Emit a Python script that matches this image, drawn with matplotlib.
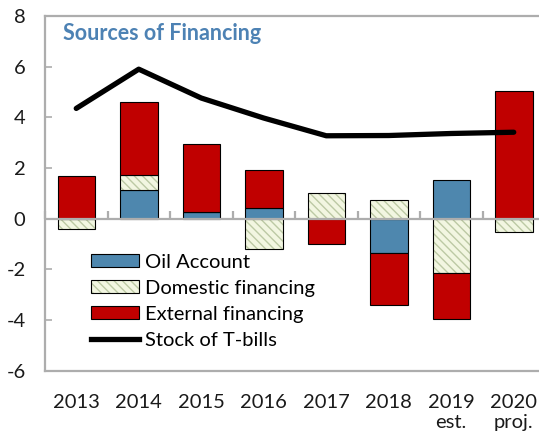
import numpy as np
import matplotlib
matplotlib.use("Agg")
import matplotlib.pyplot as plt
from matplotlib.patches import Patch
from matplotlib.lines import Line2D

plt.rcParams["font.family"] = ["Lato", "DejaVu Sans"]
plt.rcParams["hatch.linewidth"] = 1.0
plt.rcParams["axes.unicode_minus"] = False

# ---------------------------------------------------------------------------
# data (percent of GDP)
# ---------------------------------------------------------------------------
years = ["2013", "2014", "2015", "2016", "2017", "2018", "2019\nest.", "2020\nproj."]
oil_account = [0.0, 1.12, 0.25, 0.40, 0.0, -1.34, 1.51, 0.0]
domestic = [-0.40, 0.62, 0.0, -1.20, 1.01, 0.72, -2.14, -0.54]
external = [1.68, 2.87, 2.68, 1.52, -0.99, -2.08, -1.81, 5.05]
tbills = [4.35, 5.90, 4.76, 3.97, 3.27, 3.28, 3.36, 3.41]

OIL_C = "#4E87AE"
DOM_C = "#F2F6E1"
HATCH_C = "#BCC9A4"
EXT_C = "#C00000"
GRID_C = "#ADADAD"
TITLE_C = "#4D82B4"
FS = 14.5

fig = plt.figure(figsize=(5.39, 4.41), dpi=100)
ax = fig.add_axes([45 / 539, 1 - 370.5 / 441, 500 / 539, 354.5 / 441])

x = np.arange(len(years))
w = 0.6
pos_base = np.zeros(len(years))
neg_base = np.zeros(len(years))
series = [(oil_account, OIL_C, None), (domestic, DOM_C, "\\\\\\\\"), (external, EXT_C, None)]
for vals, col, hatch in series:
    v = np.array(vals)
    base = np.where(v >= 0, pos_base, neg_base)
    bars = ax.bar(x, v, w, bottom=base, color=col, edgecolor="black",
                  linewidth=0.8, hatch=hatch, zorder=3)
    if hatch:
        for b in bars:
            b._hatch_color = matplotlib.colors.to_rgba(HATCH_C)
    pos_base += np.where(v > 0, v, 0)
    neg_base += np.where(v < 0, v, 0)

# zero line sits on top of the bars
ax.axhline(0, color=GRID_C, linewidth=1.6, zorder=5)
ax.plot(x, tbills, color="black", linewidth=3.8, solid_capstyle="round", zorder=6)

ax.set_xlim(-0.5, len(years) - 0.5)
ax.set_ylim(-6, 8)
ax.set_yticks(range(-6, 9, 2))
ax.set_xticks(x)
ax.set_xticklabels(years, fontsize=FS, color="#1a1a1a")
ax.tick_params(axis="x", length=0, pad=17)
ax.tick_params(axis="y", direction="in", length=5, width=1.2, color=GRID_C,
               labelsize=FS, labelcolor="#1a1a1a", pad=14)
for s in ax.spines.values():
    s.set_color(GRID_C)
    s.set_linewidth(1.6)

# category separator ticks on the zero line
zero = ax.secondary_xaxis(6 / 14)
zero.set_xticks(np.arange(len(years) + 1) - 0.5)
zero.tick_params(direction="in", length=6, width=1.6, color=GRID_C, labelbottom=False, labeltop=False)
for side in ("bottom", "top"):
    zero.spines[side].set_visible(False)

ax.text(0.036, 0.952, "Sources of Financing", transform=ax.transAxes,
        fontsize=15.5, fontweight="bold", color=TITLE_C, va="center", ha="left")

handles = [
    Patch(facecolor=OIL_C, edgecolor="black", linewidth=0.8, label="Oil Account"),
    Patch(facecolor=DOM_C, edgecolor="black", linewidth=0.8, hatch="\\\\\\\\", label="Domestic financing"),
    Patch(facecolor=EXT_C, edgecolor="black", linewidth=0.8, label="External financing"),
    Line2D([], [], color="black", linewidth=3.8, label="Stock of T-bills"),
]
leg = ax.legend(handles=handles, loc="upper left", bbox_to_anchor=(0.092, 0.33),
                frameon=False, fontsize=FS, handlelength=2.4, handleheight=0.6,
                handletextpad=0.3, labelspacing=0.45, borderaxespad=0, borderpad=0)
for p in leg.get_patches():
    if p.get_hatch():
        p._hatch_color = matplotlib.colors.to_rgba(HATCH_C)

fig.savefig("out.png", dpi=100)
